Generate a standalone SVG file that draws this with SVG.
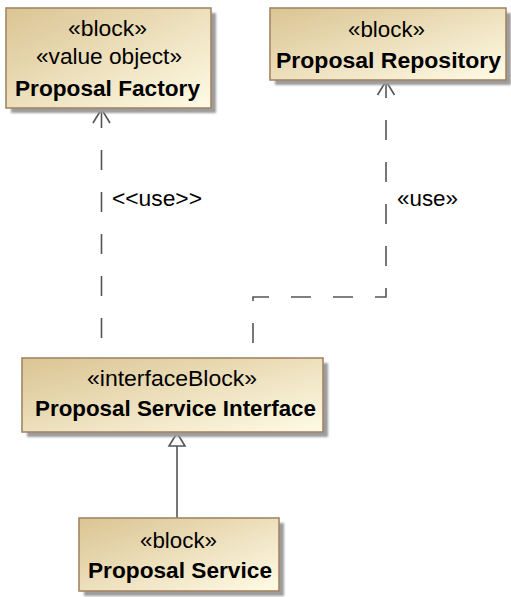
<svg xmlns="http://www.w3.org/2000/svg" width="511" height="597" viewBox="0 0 511 597">
<defs>
<linearGradient id="fill" x1="0" y1="0" x2="1" y2="1">
<stop offset="0" stop-color="#dac492"/>
<stop offset="1" stop-color="#fffbe6"/>
</linearGradient>
<filter id="sh" x="-10%" y="-10%" width="130%" height="130%">
<feGaussianBlur stdDeviation="1.2"/>
</filter>
</defs>
<style>
.box{fill:url(#fill);stroke:#a48565;stroke-width:1.6}
.shadow{fill:#9c9c9c;filter:url(#sh)}
.t{font-family:"Liberation Sans",Arial,sans-serif;font-size:22px;fill:#000}
.b{font-weight:bold}
.dash{fill:none;stroke:#555;stroke-width:1.6;stroke-dasharray:20 22}
.solid{fill:none;stroke:#555;stroke-width:1.6}
</style>
<g id="connectors">
<path class="dash" d="M101.5,358 V112" stroke-dashoffset="22"/>
<path class="solid" d="M93,123 L101.5,109 L110,123"/>
<path class="dash" d="M253,358 V297 H386 V84" stroke-dashoffset="27"/>
<path class="solid" d="M377.5,95 L386,81 L394.5,95"/>
<text class="t" x="112" y="206" textLength="90" lengthAdjust="spacingAndGlyphs">&lt;&lt;use&gt;&gt;</text>
<text class="t" x="397" y="206" textLength="61" lengthAdjust="spacingAndGlyphs">«use»</text>
<path class="solid" d="M177,446 V518"/>
<path class="solid" d="M177,433 L185,446 L169,446 Z" style="fill:#fff"/>
</g>
<g id="proposal-factory">
<rect class="shadow" x="11" y="13" width="205" height="100"/>
<rect class="box" x="6" y="8" width="205" height="100"/>
<text class="t" x="68" y="36" textLength="79" lengthAdjust="spacingAndGlyphs">«block»</text>
<text class="t" x="36" y="64" textLength="146" lengthAdjust="spacingAndGlyphs">«value object»</text>
<text class="t b" x="15" y="96" textLength="185" lengthAdjust="spacingAndGlyphs">Proposal Factory</text>
</g>
<g id="proposal-repository">
<rect class="shadow" x="275" y="13" width="236" height="72"/>
<rect class="box" x="270" y="8" width="236" height="72"/>
<text class="t" x="348" y="37" textLength="77" lengthAdjust="spacingAndGlyphs">«block»</text>
<text class="t b" x="276" y="68" textLength="225" lengthAdjust="spacingAndGlyphs">Proposal Repository</text>
</g>
<g id="proposal-service-interface">
<rect class="shadow" x="27" y="363" width="301" height="74"/>
<rect class="box" x="22" y="358" width="301" height="74"/>
<text class="t" x="87" y="386" textLength="170" lengthAdjust="spacingAndGlyphs">«interfaceBlock»</text>
<text class="t b" x="35" y="416" textLength="281" lengthAdjust="spacingAndGlyphs">Proposal Service Interface</text>
</g>
<g id="proposal-service">
<rect class="shadow" x="84" y="523" width="200" height="73"/>
<rect class="box" x="79" y="518" width="200" height="73"/>
<text class="t" x="140" y="548" textLength="77" lengthAdjust="spacingAndGlyphs">«block»</text>
<text class="t b" x="88" y="578" textLength="184" lengthAdjust="spacingAndGlyphs">Proposal Service</text>
</g>
</svg>
